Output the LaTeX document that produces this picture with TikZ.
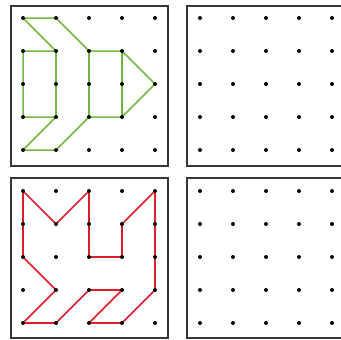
\documentclass[tikz,border=0pt]{standalone}
\definecolor{gline}{RGB}{115,185,65}
\definecolor{rline}{RGB}{220,30,40}
\definecolor{frame}{RGB}{55,55,55}
\begin{document}
\begin{tikzpicture}[x=1pt,y=-1pt,
  panel/.style={draw=frame, line width=2pt},
  dot/.style={circle, fill=black, inner sep=0pt, minimum size=4pt},
  greenpath/.style={draw=gline, line width=1.5pt, line join=round},
  redpath/.style={draw=rline, line width=1.6pt, line join=round}]
\useasboundingbox (0,0) rectangle (341,340);
\clip (0,0) rectangle (341,340);
% panels
\draw[panel] (10.5,5.5) rectangle (167.5,165.5);
\draw[panel] (10.5,178) rectangle (167.5,337.5);
\draw[panel] (187,6) rectangle (352,166);
\draw[panel] (187,178) rectangle (352,338);
% grid coordinates
\foreach \i in {0,...,4}{
  \foreach \j in {0,...,4}{
    \coordinate (A-\i-\j) at ({23+33*\i},{18+33*\j});
    \coordinate (B-\i-\j) at ({23+33*\i},{191+33*\j});
    \coordinate (C-\i-\j) at ({200+33*\i},{18+33*\j});
    \coordinate (D-\i-\j) at ({200+33*\i},{191+33*\j});
  }
}
% green figure
\draw[greenpath] (A-0-0) -- (A-1-0) -- (A-2-1) -- (A-3-1) -- (A-4-2) -- (A-3-3)
  -- (A-2-3) -- (A-1-4) -- (A-0-4) -- (A-1-3) -- (A-0-3) -- (A-0-1) -- (A-1-1) -- cycle;
\draw[greenpath] (A-1-1) -- (A-1-3);
\draw[greenpath] (A-2-1) -- (A-2-3);
\draw[greenpath] (A-3-1) -- (A-3-3);
% red figure
\draw[redpath] (B-0-0) -- (B-1-1) -- (B-2-0) -- (B-2-2) -- (B-3-2) -- (B-3-1) -- (B-4-0)
  -- (B-4-3) -- (B-3-4) -- (B-2-4) -- (B-3-3) -- (B-2-3) -- (B-1-4) -- (B-0-4)
  -- (B-1-3) -- (B-0-2) -- cycle;
% dots
\foreach \g in {A,B,C,D}{
  \foreach \i in {0,...,4}{
    \foreach \j in {0,...,4}{
      \node[dot] (d\g-\i-\j) at (\g-\i-\j) {};
    }
  }
}
\end{tikzpicture}
\end{document}
